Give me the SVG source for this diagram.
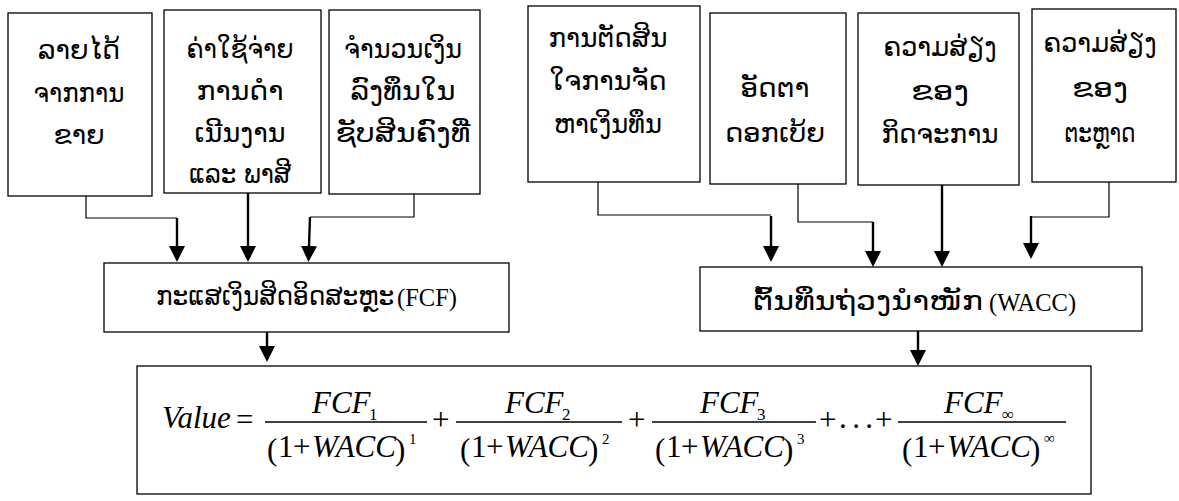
<svg xmlns="http://www.w3.org/2000/svg" xmlns:xlink="http://www.w3.org/1999/xlink" width="1179" height="501" viewBox="0 0 1179 501">
<style>
.box{fill:#fff;stroke:#000;stroke-width:1.3}
.t{font-family:"DejaVu Sans","Noto Sans",sans-serif;font-size:26px;text-anchor:middle;fill:#000}
.lao{font-family:"DejaVu Sans","Noto Sans",sans-serif;font-size:26px;fill:#000}
.ts{font-family:"Liberation Serif","Times New Roman",serif;font-size:24.5px;fill:#000}
.thin{fill:none;stroke:#000;stroke-width:1.2}
.thick{fill:none;stroke:#000;stroke-width:2.4;marker-end:url(#ah)}
.m{font-family:"Liberation Serif","Times New Roman",serif;font-size:31px;fill:#000}
.i{font-style:italic}
.sub{font-family:"Liberation Serif","Times New Roman",serif;font-size:17px;fill:#000}
.sup{font-family:"Liberation Serif","Times New Roman",serif;font-size:15px;fill:#000}
.bar{stroke:#000;stroke-width:1.3}
</style>
<defs>
<marker id="ah" markerUnits="userSpaceOnUse" viewBox="0 0 16 16" markerWidth="16" markerHeight="16" refX="0" refY="8" orient="auto">
<path d="M0,0 L16,8 L0,16 z" fill="#000"/>
</marker>
<g id="den">
<text class="m" x="0" y="3" font-size="36">(</text>
<text class="m" x="11" y="0">1</text>
<text class="m" x="26" y="0">+</text>
<text class="m i" x="45" y="0" font-size="32">WACC</text>
<text class="m" x="128" y="3" font-size="36">)</text>
</g>
</defs>
<rect width="1179" height="501" fill="#fff"/>

<g id="connectors">
<path class="thin" d="M86,196 V218 H177"/>
<path class="thick" d="M177,218 V246"/>
<path class="thick" d="M248,193 V246"/>
<path class="thin" d="M414,194 V217 H310"/>
<path class="thick" d="M310,217 L309,246"/>
<path class="thin" d="M598,182 V215 H771"/>
<path class="thick" d="M771,216 V246"/>
<path class="thin" d="M798,184 V222 H873"/>
<path class="thick" d="M873,222 V251"/>
<path class="thick" d="M942,185 V251"/>
<path class="thin" d="M1109,182 V217 H1031"/>
<path class="thick" d="M1031,216 V243"/>
<path class="thick" d="M267,332 V346"/>
<path class="thick" d="M918,331 V350"/>
</g>

<g id="n1">
<rect class="box" x="8" y="13" width="144" height="183"/>
<text class="t" x="79" y="59" textLength="82" lengthAdjust="spacingAndGlyphs">ລາຍໄດ້</text>
<text class="t" x="79" y="102" textLength="91" lengthAdjust="spacingAndGlyphs">ຈາກການ</text>
<text class="t" x="79" y="144" textLength="51" lengthAdjust="spacingAndGlyphs">ຂາຍ</text>
</g>
<g id="n2">
<rect class="box" x="164" y="10" width="157" height="183"/>
<text class="t" x="240" y="58" textLength="107" lengthAdjust="spacingAndGlyphs">ຄ່າໃຊ້ຈ່າຍ</text>
<text class="t" x="240" y="100" textLength="87" lengthAdjust="spacingAndGlyphs">ການດຳ</text>
<text class="t" x="240" y="142" textLength="91" lengthAdjust="spacingAndGlyphs">ເນີນງານ</text>
<text class="t" x="240" y="183" textLength="102" lengthAdjust="spacingAndGlyphs">ແລະ ພາສີ</text>
</g>
<g id="n3">
<rect class="box" x="329" y="10" width="151" height="184"/>
<text class="t" x="403" y="58" textLength="118" lengthAdjust="spacingAndGlyphs">ຈຳນວນເງິນ</text>
<text class="t" x="403" y="100" textLength="105" lengthAdjust="spacingAndGlyphs">ລົງທຶນໃນ</text>
<text class="t" x="403" y="142" textLength="135" lengthAdjust="spacingAndGlyphs">ຊັບສິນຄົງທີ່</text>
</g>
<g id="n4">
<rect class="box" x="528" y="6" width="172" height="176"/>
<text class="t" x="608" y="47" textLength="119" lengthAdjust="spacingAndGlyphs">ການຕັດສິນ</text>
<text class="t" x="608" y="90" textLength="117" lengthAdjust="spacingAndGlyphs">ໃຈການຈັດ</text>
<text class="t" x="608" y="133" textLength="108" lengthAdjust="spacingAndGlyphs">ຫາເງິນທຶນ</text>
</g>
<g id="n5">
<rect class="box" x="710" y="13" width="136" height="171"/>
<text class="t" x="775" y="97" textLength="69" lengthAdjust="spacingAndGlyphs">ອັດຕາ</text>
<text class="t" x="775" y="142" textLength="100" lengthAdjust="spacingAndGlyphs">ດອກເບ້ຍ</text>
</g>
<g id="n6">
<rect class="box" x="858" y="13" width="161" height="172"/>
<text class="t" x="940" y="56" textLength="113" lengthAdjust="spacingAndGlyphs">ຄວາມສ່ຽງ</text>
<text class="t" x="940" y="100" textLength="58" lengthAdjust="spacingAndGlyphs">ຂອງ</text>
<text class="t" x="940" y="143" textLength="117" lengthAdjust="spacingAndGlyphs">ກິດຈະການ</text>
</g>
<g id="n7">
<rect class="box" x="1032" y="9" width="144" height="173"/>
<text class="t" x="1100" y="52" textLength="113" lengthAdjust="spacingAndGlyphs">ຄວາມສ່ຽງ</text>
<text class="t" x="1100" y="97" textLength="56" lengthAdjust="spacingAndGlyphs">ຂອງ</text>
<text class="t" x="1100" y="142" textLength="71" lengthAdjust="spacingAndGlyphs">ຕະຫຼາດ</text>
</g>

<g id="fcf">
<rect class="box" x="104" y="263" width="405" height="69"/>
<text class="lao" transform="translate(156,305) scale(0.95,1)">ກະແສເງິນສິດອິດສະຫຼະ</text>
<text class="ts" x="397" y="306">(FCF)</text>
</g>
<g id="wacc">
<rect class="box" x="700" y="267" width="442" height="64"/>
<text class="lao" x="753" y="310" font-size="27" textLength="230" lengthAdjust="spacingAndGlyphs">ຕົ້ນທຶນຖ່ວງນຳໜັກ</text>
<text class="ts" x="989" y="311">(WACC)</text>
</g>

<g id="formula">
<rect class="box" x="137" y="366" width="954" height="128"/>
<text class="m i" x="162" y="428">Value</text>
<text class="m" x="236" y="430">=</text>

<line class="bar" x1="265" y1="422" x2="427" y2="422"/>
<text class="m i" x="312" y="413">FCF</text>
<text class="sub" x="369" y="420">1</text>
<use xlink:href="#den" x="267" y="457"/>
<text class="sup" x="409" y="444">1</text>

<text class="m" x="432" y="430">+</text>

<line class="bar" x1="456" y1="422" x2="622" y2="422"/>
<text class="m i" x="505" y="413">FCF</text>
<text class="sub" x="562" y="420">2</text>
<use xlink:href="#den" x="460" y="457"/>
<text class="sup" x="602" y="444">2</text>

<text class="m" x="628" y="430">+</text>

<line class="bar" x1="652" y1="422" x2="816" y2="422"/>
<text class="m i" x="700" y="413">FCF</text>
<text class="sub" x="757" y="420">3</text>
<use xlink:href="#den" x="655" y="457"/>
<text class="sup" x="797" y="444">3</text>

<text class="m" x="819" y="430">+</text>
<text class="m" x="839" y="428" textLength="34" lengthAdjust="spacing">...</text>
<text class="m" x="875" y="430">+</text>

<line class="bar" x1="898" y1="422" x2="1066" y2="422"/>
<text class="m i" x="944" y="413">FCF</text>
<text class="sub" x="1002" y="420">∞</text>
<use xlink:href="#den" x="902" y="457"/>
<text class="sup" x="1044" y="443">∞</text>
</g>
</svg>
